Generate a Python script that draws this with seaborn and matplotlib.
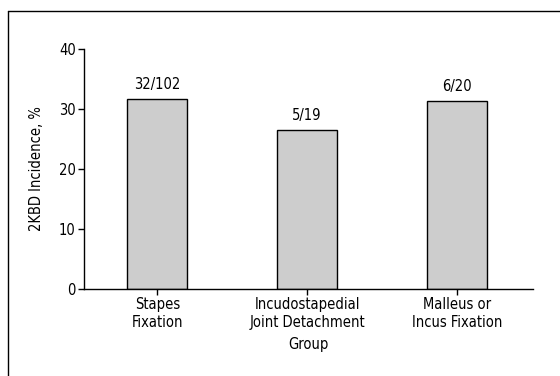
import matplotlib
matplotlib.use("Agg")
import matplotlib.pyplot as plt
import seaborn as sns
import pandas as pd
from matplotlib.lines import Line2D

# --- data ---
groups = ["Stapes\nFixation", "Incudostapedial\nJoint Detachment", "Malleus or\nIncus Fixation"]
incidence = [31.6, 26.5, 31.3]
counts = ["32/102", "5/19", "6/20"]

df = pd.DataFrame({"group": groups, "incidence": incidence})

sns.set_style("white")
plt.rcParams["font.family"] = ["DejaVu Sans"]
plt.rcParams["font.stretch"] = "condensed"
plt.rcParams["text.color"] = "black"
plt.rcParams["axes.labelcolor"] = "black"

FS = 10.5

fig = plt.figure(figsize=(5.6, 3.76), dpi=100)
ax = fig.add_axes([0.15, 0.2314, 0.802, 0.6383])

sns.barplot(data=df, x="group", y="incidence", ax=ax, color="#cdcdcd",
            edgecolor="black", linewidth=1.0, width=0.4, saturation=1)

for i, (v, c) in enumerate(zip(incidence, counts)):
    ax.annotate(c, (i, v), xytext=(0, 5), textcoords="offset points",
                ha="center", va="bottom", fontsize=FS, color="black")

ax.set_xlim(-0.49, 2.51)
ax.set_ylim(0, 40)
ax.set_yticks([0, 10, 20, 30, 40])
ax.set_xlabel("Group", fontsize=FS, labelpad=5)
ax.set_ylabel("2KBD Incidence, %", fontsize=FS, labelpad=11)
ax.tick_params(axis="both", direction="out", length=4, width=1, colors="black",
               labelsize=FS, pad=2, left=True, bottom=True)
sns.despine(ax=ax)
for s in ["left", "bottom"]:
    ax.spines[s].set_color("black")
    ax.spines[s].set_linewidth(1.0)

# outer frame of the scanned figure (top and left edges)
fig.add_artist(Line2D([8 / 560, 8 / 560], [0, 1 - 11 / 376], transform=fig.transFigure,
                      color="black", linewidth=1.0))
fig.add_artist(Line2D([8 / 560, 1], [1 - 11 / 376, 1 - 11 / 376], transform=fig.transFigure,
                      color="black", linewidth=1.0))

fig.savefig("out.png", dpi=100)
